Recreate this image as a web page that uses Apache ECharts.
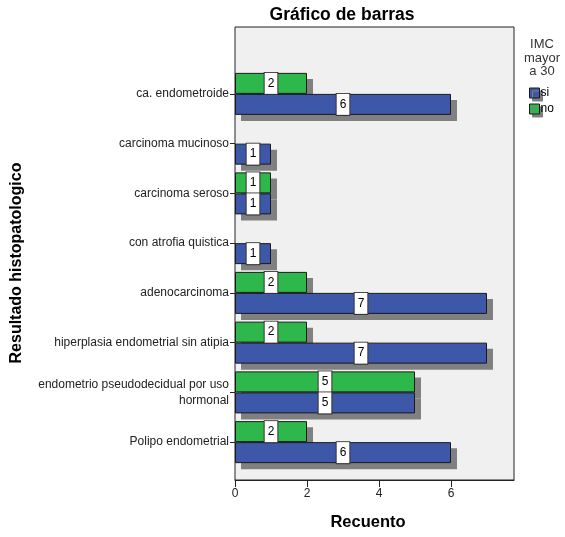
<!DOCTYPE html>
<html><head><meta charset="utf-8">
<script src="https://cdn.jsdelivr.net/npm/echarts@6/dist/echarts.min.js"></script>
<style>html,body{margin:0;padding:0;background:#fff}#c{width:565px;height:537px}</style>
</head><body><div id="c"></div>
<script>
const categories = ['ca. endometroide','carcinoma mucinoso','carcinoma seroso','con atrofia quistica','adenocarcinoma','hiperplasia endometrial sin atipia','endometrio pseudodecidual por uso\nhormonal','Polipo endometrial'];
const siValues = [6, 1, 1, 1, 7, 7, 5, 6];
const noValues = [2, null, 1, null, 2, 2, 5, 2];
const xTicks = [0, 2, 4, 6];
const legendTitle = 'IMC\nmayor\na 30';
const xName = 'Recuento';
const yName = 'Resultado histopatologico';

const FONT = '"Liberation Sans", Arial, sans-serif';
const BAR_W = 21, SH = 6;
const chart = echarts.init(document.getElementById('c'), null, {renderer:'canvas'});
function lbl(){return {show:true, position:'inside', color:'#000', fontFamily:FONT, fontSize:12,
  backgroundColor:'#fff', borderColor:'#333', borderWidth:1, padding:[5,3,4,3],
  formatter: p => p.value == null ? '' : String(p.value)};}
function style(c){return {color:c, borderColor:'#1a1a1a', borderWidth:1};}
function shadowSeries(name, values, upper){
  return {name:name, type:'custom', xAxisIndex:1, yAxisIndex:1, z:1, silent:true,
    data: values.map((v,i)=> v==null ? [null, i] : [v, i]),
    encode:{x:0, y:1},
    renderItem:function(params, api){
      const v = api.value(0); if (v == null || isNaN(v)) return null;
      const ci = api.value(1);
      const p0 = api.coord([0, ci]); const p1 = api.coord([v, ci]);
      const y = upper ? p0[1] - BAR_W : p0[1];
      return {type:'rect', shape:{x:p0[0]+SH, y:y+SH, width:p1[0]-p0[0], height:BAR_W}, style:{fill:'#808080'}};
    }};
}
chart.setOption({
  animation:false,
  title:{text:'Gráfico de barras', left:337, textAlign:'center', top:1, textStyle:{fontFamily:FONT, fontSize:17.5, fontWeight:'bold', color:'#000'}},
  graphic:[
    {type:'text', x:542, y:38, style:{text:legendTitle, font:'13px '+FONT, fill:'#333', align:'center', verticalAlign:'top', lineHeight:13.5}},
    {type:'text', x:368, y:522, style:{text:xName, font:'bold 16.5px '+FONT, fill:'#000', align:'center', verticalAlign:'middle'}},
    {type:'text', x:17, y:263, rotation:Math.PI/2, style:{text:yName, font:'bold 16px '+FONT, fill:'#000', align:'center', verticalAlign:'middle'}}
  ],
  legend:{data:['si','no'], orient:'vertical', left:529, top:87, padding:0, icon:'rect', itemWidth:10, itemHeight:10, itemGap:4,
    textStyle:{fontFamily:FONT, fontSize:12, color:'#000', padding:[0,0,0,-4]},
    itemStyle:{borderColor:'#1a1a1a', borderWidth:1, shadowBlur:0, shadowColor:'#808080', shadowOffsetX:3, shadowOffsetY:3}},
  grid:[
    {left:235, right:51, top:27, bottom:57, show:true, backgroundColor:'#f0f0f0', borderColor:'#222', borderWidth:1},
    {left:235, right:51, top:69, height:398}
  ],
  xAxis:[
    {gridIndex:0, type:'value', min:0, max:7.75, interval:2, splitLine:{show:false},
     axisLine:{show:true, lineStyle:{color:'#222'}},
     axisTick:{show:true, length:7, customValues:xTicks, lineStyle:{color:'#222'}},
     axisLabel:{customValues:xTicks, fontFamily:FONT, fontSize:12, color:'#222', margin:8}},
    {gridIndex:1, type:'value', min:0, max:7.75, show:false}
  ],
  yAxis:[
    {gridIndex:0, type:'value', show:false},
    {gridIndex:1, type:'category', data:categories, inverse:true,
     axisLine:{show:false}, axisTick:{show:true, alignWithLabel:true, length:5, lineStyle:{color:'#222'}},
     axisLabel:{fontFamily:FONT, fontSize:12, color:'#222', margin:6, lineHeight:16}}
  ],
  series:[
    shadowSeries('sh_no', noValues, true),
    shadowSeries('sh_si', siValues, false),
    {name:'no', type:'bar', xAxisIndex:1, yAxisIndex:1, z:2, data:noValues, barWidth:BAR_W, barGap:'0%', itemStyle:style('#2eb84b'), label:lbl()},
    {name:'si', type:'bar', xAxisIndex:1, yAxisIndex:1, z:2, data:siValues, barWidth:BAR_W, barGap:'0%', itemStyle:style('#3d57a9'), label:lbl()}
  ]
});
</script></body></html>
